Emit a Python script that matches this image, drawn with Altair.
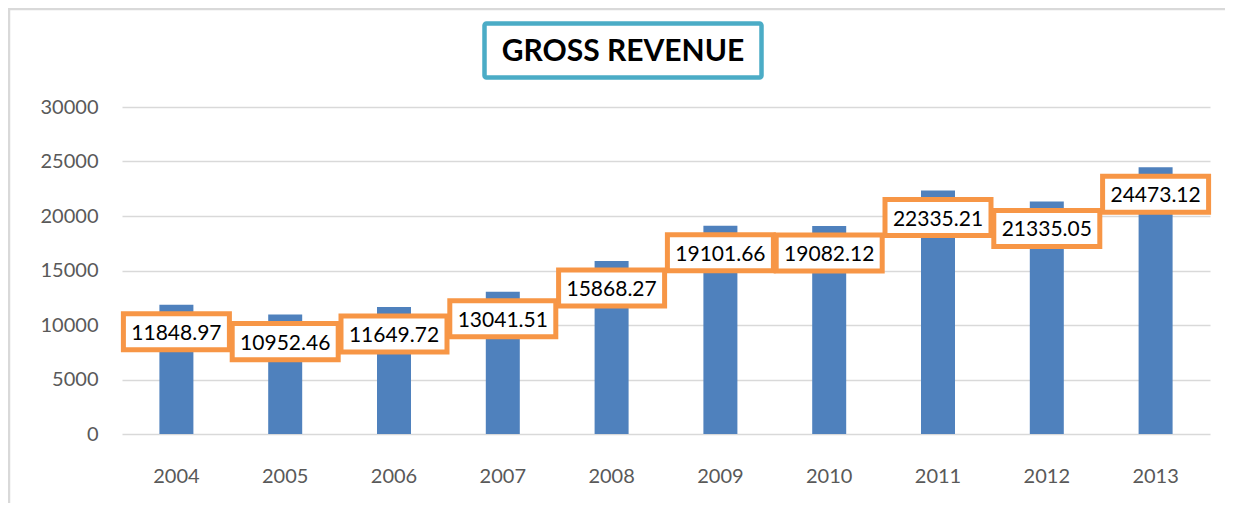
import altair as alt
import pandas as pd

years = ["2004", "2005", "2006", "2007", "2008", "2009", "2010", "2011", "2012", "2013"]
revenue = [11848.97, 10952.46, 11649.72, 13041.51, 15868.27, 19101.66, 19082.12, 22335.21, 21335.05, 24473.12]
labels = ["11848.97", "10952.46", "11649.72", "13041.51", "15868.27", "19101.66", "19082.12", "22335.21", "21335.05", "24473.12"]
title_text = "GROSS REVENUE"
y_ticks = [0, 5000, 10000, 15000, 20000, 25000, 30000]

df = pd.DataFrame({"year": years, "revenue": revenue, "label": labels})
one = pd.DataFrame({"t": [title_text]})

W, H = 1088, 327
FONT = "Lato"

x_enc = alt.X("year:N", sort=years,
              scale=alt.Scale(paddingInner=0, paddingOuter=0),
              axis=alt.Axis(title=None, domain=False, ticks=False, tickSize=0, labelAngle=0,
                            labelFont=FONT, labelFontSize=20, labelColor="#595959",
                            labelPadding=48, labelBaseline="alphabetic", grid=False))
y_enc = alt.Y("revenue:Q", scale=alt.Scale(domain=[0, 30000], nice=False),
              axis=alt.Axis(title=None, domain=False, ticks=False, tickSize=0, values=y_ticks,
                            format="d",
                            labelFont=FONT, labelFontSize=20, labelColor="#595959",
                            labelPadding=24, grid=True, gridColor="#d9d9d9", gridWidth=1.5))

bars = alt.Chart(df).mark_bar(width=34, color="#4F81BD").encode(x=x_enc, y=y_enc)

boxes = alt.Chart(df).mark_point(
    shape="M-1,-0.34L1,-0.34L1,0.34L-1,0.34Z", size=106 * 106, filled=True,
    fill="white", stroke="#F79646", strokeWidth=5, opacity=1, yOffset=27
).encode(x=alt.X("year:N", sort=years), y=alt.Y("revenue:Q"))

texts = alt.Chart(df).mark_text(
    font=FONT, fontSize=21, color="black", baseline="alphabetic", dy=35
).encode(x=alt.X("year:N", sort=years), y=alt.Y("revenue:Q"), text="label:N")

title_box = alt.Chart(one).mark_rect(
    fill="white", stroke="#4BACC6", strokeWidth=4.5, cornerRadius=2
).encode(x=alt.value(362.5), x2=alt.value(639.5), y=alt.value(-83.5), y2=alt.value(-29.5))

title = alt.Chart(one).mark_text(
    font=FONT, fontSize=30, fontWeight="bold", color="black", baseline="alphabetic", align="center"
).encode(x=alt.value(501), y=alt.value(-46), text="t:N")

frame_left = alt.Chart(one).mark_rule(color="#d9d9d9", strokeWidth=2.5).encode(
    x=alt.value(-113), y=alt.value(-98), y2=alt.value(H + 90))
frame_top = alt.Chart(one).mark_rule(color="#d9d9d9", strokeWidth=2.5).encode(
    x=alt.value(-114), x2=alt.value(W + 20), y=alt.value(-98))

chart = alt.layer(frame_left, frame_top, bars, boxes, texts, title_box, title).properties(
    width=W, height=H,
    background="white",
    autosize=alt.AutoSizeParams(type="none"),
    padding={"left": 114, "top": 99, "right": 15, "bottom": 69},
).configure_view(stroke="transparent", strokeWidth=0)

chart.save("out.html", embed_options={"renderer": "svg", "actions": False})
